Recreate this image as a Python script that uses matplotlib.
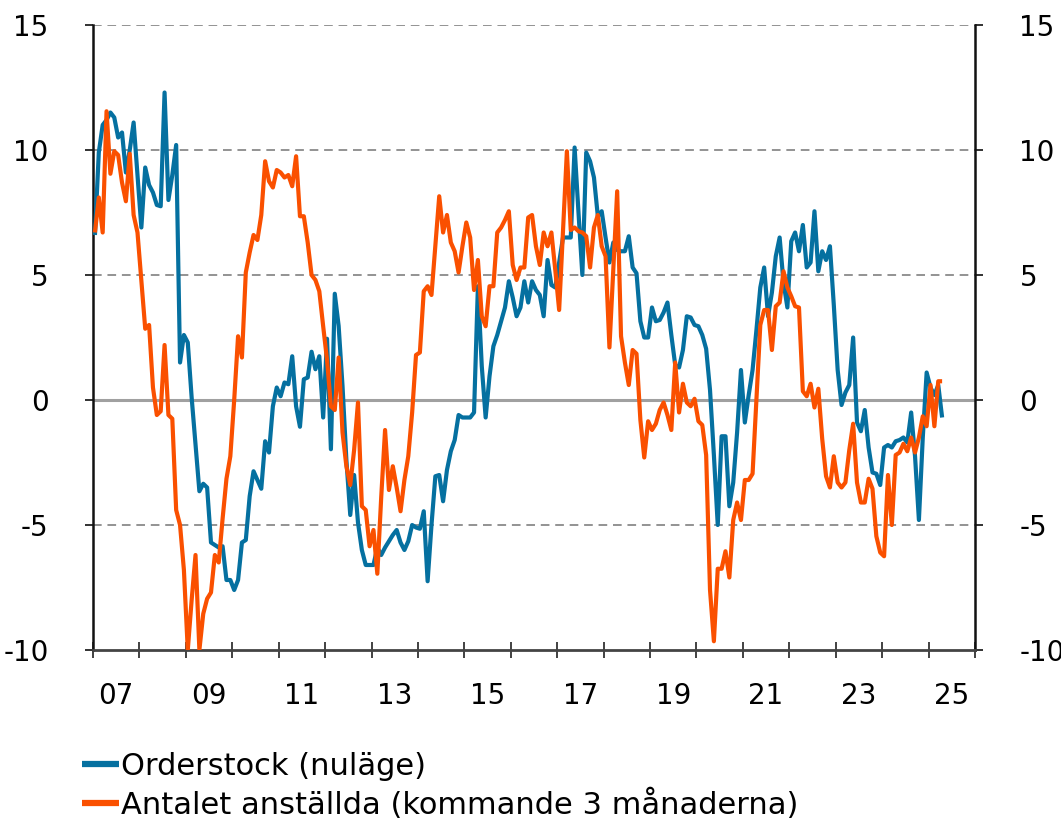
import numpy as np
import matplotlib
matplotlib.use("Agg")
import matplotlib.pyplot as plt

plt.rcParams['font.family'] = ['DejaVu Sans']
plt.rcParams['axes.unicode_minus'] = False

start_year = 2007

# Monthly values, Jan 2007 - Apr 2025
orderstock = [
    6.6, 9.9, 11.0, 11.2, 11.5, 11.3, 10.5, 10.7, 9.1, 10.0, 11.1, 9.0,          # 2007
    6.9, 9.3, 8.6, 8.3, 7.8, 7.75, 12.3, 8.0, 9.0, 10.2, 1.5, 2.6,               # 2008
    2.3, 0.1, -1.8, -3.65, -3.35, -3.5, -5.7, -5.8, -5.9, -5.85, -7.2, -7.2,     # 2009
    -7.6, -7.2, -5.7, -5.6, -3.85, -2.85, -3.2, -3.55, -1.65, -2.1, -0.25, 0.5,  # 2010
    0.15, 0.7, 0.63, 1.75, -0.25, -1.07, 0.83, 0.9, 1.93, 1.23, 1.75, -0.7,      # 2011
    2.45, -1.97, 4.25, 2.96, 0.56, -2.4, -4.6, -3.0, -4.9, -6.0, -6.6, -6.6,     # 2012
    -6.6, -5.9, -6.2, -5.9, -5.65, -5.4, -5.2, -5.7, -6.0, -5.65, -5.0, -5.1,    # 2013
    -5.15, -4.45, -7.25, -5.0, -3.05, -3.0, -4.05, -2.8, -2.05, -1.6, -0.6, -0.7,  # 2014
    -0.7, -0.7, -0.5, 4.55, 1.35, -0.7, 0.95, 2.15, 2.6, 3.15, 3.7, 4.75,        # 2015
    4.1, 3.35, 3.7, 4.75, 3.9, 4.75, 4.4, 4.2, 3.35, 5.6, 4.6, 4.5,              # 2016
    5.5, 6.5, 6.5, 6.5, 10.1, 7.5, 5.0, 9.9, 9.55, 8.9, 7.35, 7.55,              # 2017
    6.5, 5.5, 6.3, 6.0, 5.95, 5.95, 6.55, 5.3, 5.07, 3.15, 2.5, 2.5,             # 2018
    3.7, 3.15, 3.2, 3.5, 3.9, 2.6, 1.4, 1.3, 2.0, 3.35, 3.3, 3.0,                # 2019
    2.95, 2.6, 2.05, 0.4, -2.2, -5.0, -1.45, -1.45, -4.25, -3.3, -1.3, 1.2,      # 2020
    -0.9, 0.2, 1.2, 2.8, 4.5, 5.3, 3.35, 4.3, 5.75, 6.5, 4.7, 3.7,               # 2021
    6.35, 6.7, 5.95, 7.0, 5.3, 5.5, 7.55, 5.15, 5.95, 5.6, 6.15, 3.8,            # 2022
    1.2, -0.2, 0.3, 0.6, 2.5, -0.9, -1.25, -0.4, -1.9, -2.9, -2.95, -3.4,        # 2023
    -1.9, -1.8, -1.9, -1.65, -1.6, -1.5, -1.7, -0.5, -2.25, -4.8, -1.5, 1.1,     # 2024
    0.5, 0.2, 0.6, -0.7,                                                         # 2025
]

anstallda = [
    6.7, 8.1, 6.7, 11.55, 9.05, 9.95, 9.8, 8.7, 7.95, 9.85, 7.4, 6.7,            # 2007
    4.8, 2.85, 3.0, 0.5, -0.6, -0.45, 2.2, -0.6, -0.75, -4.4, -5.0, -6.8,        # 2008
    -10.0, -8.0, -6.2, -10.0, -8.55, -7.95, -7.7, -6.2, -6.5, -4.75, -3.15, -2.25,  # 2009
    0.0, 2.55, 1.7, 5.1, 5.9, 6.6, 6.4, 7.4, 9.55, 8.75, 8.5, 9.2,               # 2010
    9.1, 8.9, 9.0, 8.55, 9.75, 7.35, 7.35, 6.3, 5.0, 4.8, 4.35, 2.95,            # 2011
    1.6, -0.25, -0.4, 1.7, -1.3, -2.65, -3.4, -2.0, -0.1, -4.25, -4.4, -5.85,    # 2012
    -5.2, -6.95, -3.9, -1.2, -3.6, -2.65, -3.5, -4.45, -3.2, -2.25, -0.5, 1.8,   # 2013
    1.9, 4.35, 4.55, 4.2, 6.15, 8.15, 6.7, 7.4, 6.3, 5.95, 5.1, 6.15,            # 2014
    7.1, 6.5, 4.4, 5.6, 3.35, 2.95, 4.55, 4.55, 6.7, 6.9, 7.2, 7.55,             # 2015
    5.4, 4.8, 5.3, 5.3, 7.3, 7.4, 6.15, 5.4, 6.7, 6.15, 6.7, 5.2,                # 2016
    3.6, 6.8, 9.95, 6.8, 6.9, 6.75, 6.7, 6.55, 5.3, 6.9, 7.4, 6.15,              # 2017
    5.75, 2.1, 5.2, 8.35, 2.55, 1.5, 0.6, 2.0, 1.85, -0.8, -2.3, -0.85,          # 2018
    -1.2, -0.95, -0.4, -0.1, -0.6, -1.2, 1.5, -0.5, 0.65, -0.1, -0.25, 0.05,     # 2019
    -0.85, -1.0, -2.2, -7.6, -9.65, -6.75, -6.75, -6.05, -7.1, -4.8, -4.1, -4.8,  # 2020
    -3.2, -3.2, -2.95, 0.0, 3.0, 3.6, 3.6, 2.0, 3.75, 3.9, 5.15, 4.5,            # 2021
    4.15, 3.75, 3.7, 0.35, 0.15, 0.65, -0.3, 0.45, -1.55, -3.05, -3.5, -2.25,    # 2022
    -3.3, -3.5, -3.3, -2.0, -0.95, -3.3, -4.1, -4.1, -3.15, -3.55, -5.45, -6.1,  # 2023
    -6.25, -3.0, -5.0, -2.2, -2.1, -1.75, -2.05, -1.5, -2.1, -1.5, -0.65, -1.05,  # 2024
    0.6, -1.05, 0.75, 0.75,                                                      # 2025
]

series_labels = ["Orderstock (nuläge)", "Antalet anställda (kommande 3 månaderna)"]
year_labels = ["07", "09", "11", "13", "15", "17", "19", "21", "23", "25"]
label_years = [2007, 2009, 2011, 2013, 2015, 2017, 2019, 2021, 2023, 2025]
y_ticks = [-10, -5, 0, 5, 10, 15]
grid_levels = [-5, 5, 10, 15]

blue = '#0570a0'
orange = '#fa5000'
fs = 20
fs_leg = 22

W, H = 1061, 823
fig = plt.figure(figsize=(W / 100, H / 100), dpi=100)
ax = fig.add_axes([93 / W, 1 - 650 / H, (975 - 93) / W, (650 - 25) / H])

n = len(orderstock)
x = start_year + (np.arange(n) + 0.5) / 12.0

for g in grid_levels:
    ax.axhline(g, color='#8a8a8a', lw=1.3, ls=(0, (4.8, 3.2)), zorder=1)
ax.axhline(0, color='#a0a0a0', lw=2.2, zorder=1)

l1, = ax.plot(x, orderstock, color=blue, lw=3.0, solid_joinstyle='round',
              solid_capstyle='butt', zorder=3, label=series_labels[0])
l2, = ax.plot(x, anstallda, color=orange, lw=3.0, solid_joinstyle='round',
              solid_capstyle='butt', zorder=4, label=series_labels[1])

ax.set_xlim(2007, 2026)
ax.set_ylim(-10, 15)

ax.set_xticks(np.arange(2007, 2027), minor=False)
ax.set_xticklabels([])
ax.set_xticks([y + 0.5 for y in label_years], minor=True)
ax.set_xticklabels(year_labels, minor=True)
ax.tick_params(axis='x', which='major', direction='inout', length=12, width=1.3, color='#333333')
ax.tick_params(axis='x', which='minor', length=0, pad=23, labelsize=fs)

ax.set_yticks(y_ticks)
ax.set_yticklabels([str(v) for v in y_ticks])
ax.tick_params(axis='y', direction='out', length=6, width=1.3, color='#222222',
               pad=26, labelsize=fs, left=True, right=True,
               labelleft=True, labelright=True)

ax.spines['top'].set_visible(False)
for s in ['left', 'right']:
    ax.spines[s].set_color('#111111')
    ax.spines[s].set_linewidth(1.8)
ax.spines['bottom'].set_color('#444444')
ax.spines['bottom'].set_linewidth(2.0)

leg = fig.legend(handles=[l1, l2], loc='upper left',
                 bbox_to_anchor=(82 / W, 1 - 752 / H), frameon=False,
                 fontsize=fs_leg, handlelength=1.2, handletextpad=0.08,
                 labelspacing=0.25, borderaxespad=0, borderpad=0)
for h in leg.legend_handles:
    h.set_linewidth(4.5)

fig.savefig('out.png', dpi=100)
